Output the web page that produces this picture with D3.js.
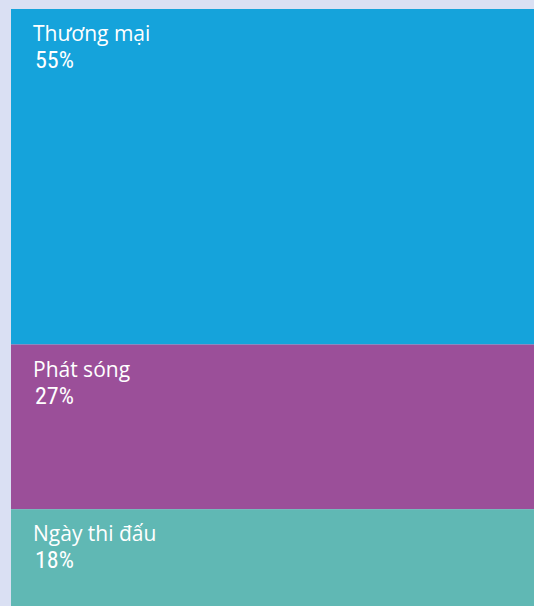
<!DOCTYPE html>
<html>
<head>
<meta charset="utf-8">
<script src="https://cdn.jsdelivr.net/npm/d3@7"></script>
<style>
  html, body { margin: 0; padding: 0; background: #dae0f3; overflow: hidden; }
  svg { display: block; }
</style>
</head>
<body>
<div id="view"></div>
<script>
// Cơ cấu doanh thu (100% stacked)
const CATEGORIES = ["Thương mại", "Phát sóng", "Ngày thi đấu"];
const VALUES = [55, 27, 18];
const LABELS = ["55%", "27%", "18%"];
const COLORS = ["#15a3db", "#9b4f99", "#60b8b4"];

const W = 534, H = 606;
const svg = d3.select("#view").append("svg")
  .attr("width", W).attr("height", H);

// cộng dồn
const rows = [];
let acc = 0;
VALUES.forEach((v, i) => {
  rows.push({ name: CATEGORIES[i], label: LABELS[i], y0: acc, y1: acc + v, color: COLORS[i] });
  acc += v;
});

const x = d3.scaleBand().domain(["total"]).range([11, 560]).padding(0);
const y = d3.scaleLinear().domain([0, 100]).range([9, 9 + 610]);

svg.selectAll("rect.seg")
  .data(rows)
  .join("rect")
  .attr("class", "seg")
  .attr("x", x("total"))
  .attr("width", x.bandwidth())
  .attr("y", d => y(d.y0))
  .attr("height", d => y(d.y1) - y(d.y0))
  .attr("fill", d => d.color);

svg.selectAll("text.name")
  .data(rows)
  .join("text")
  .attr("class", "name")
  .attr("x", 33)
  .attr("y", d => y(d.y0) + 32)
  .style("font-family", "'Open Sans', 'Noto Sans', sans-serif")
  .style("font-size", "21px")
  .style("fill", "#fff")
  .text(d => d.name);

svg.selectAll("text.pct")
  .data(rows)
  .join("text")
  .attr("class", "pct")
  .attr("x", 35)
  .attr("y", d => y(d.y0) + 59)
  .style("font-family", "'Liberation Sans Narrow', 'Roboto Condensed', sans-serif")
  .style("font-size", "24px")
  .style("fill", "#fff")
  .text(d => d.label);
</script>
</body>
</html>
